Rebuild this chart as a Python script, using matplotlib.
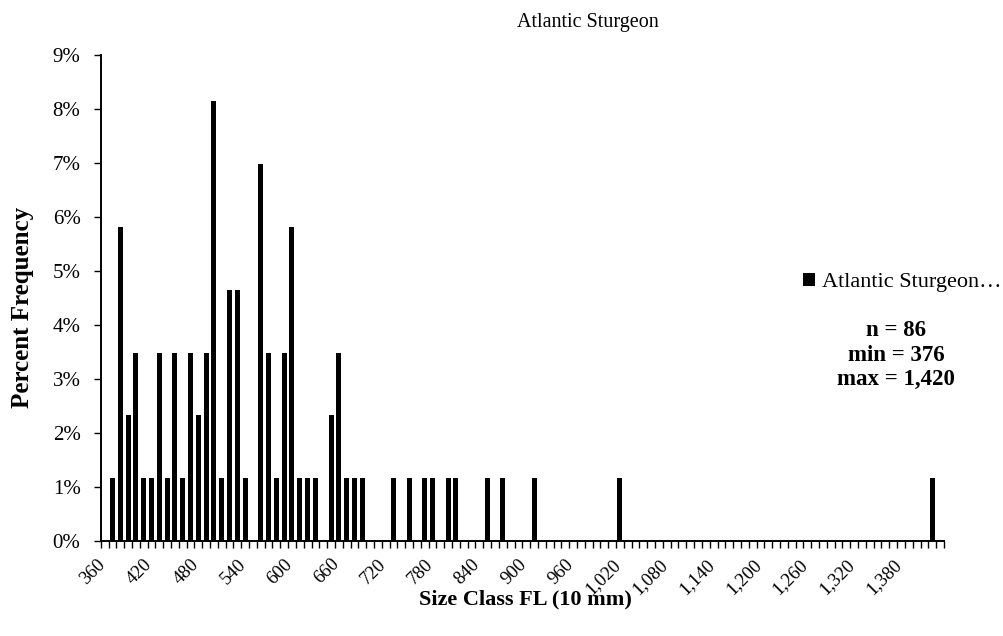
import matplotlib
matplotlib.use("Agg")
import matplotlib.pyplot as plt
import matplotlib.transforms as mtransforms
import numpy as np

# ---- data ----
size_classes = [370, 380, 390, 400, 410, 420, 430, 440, 450, 460, 470, 480, 490, 500,
                510, 520, 530, 540, 560, 570, 580, 590, 600, 610, 620, 630, 650, 660,
                670, 680, 690, 730, 750, 770, 780, 800, 810, 850, 870, 910, 1020, 1420]
counts = [1, 5, 2, 3, 1, 1, 3, 1, 3, 1, 3, 2, 3, 7,
          1, 4, 4, 1, 6, 3, 1, 3, 5, 1, 1, 1, 2, 3,
          1, 1, 1, 1, 1, 1, 1, 1, 1, 1, 1, 1, 1, 1]
n_total = 86
category_start = 360
category_end = 1430
category_step = 10
tick_labels = ["360", "420", "480", "540", "600", "660", "720", "780", "840", "900",
               "960", "1,020", "1,080", "1,140", "1,200", "1,260", "1,320", "1,380"]
y_ticks = [0, 1, 2, 3, 4, 5, 6, 7, 8, 9]
stats_text = "n = 86\nmin = 376\nmax = 1,420"

plt.rcParams['font.family'] = ['Liberation Serif', 'DejaVu Serif']

categories = list(range(category_start, category_end + 1, category_step))
cat_index = {c: i for i, c in enumerate(categories)}
xpos = [cat_index[s] for s in size_classes]
percent = [c / n_total * 100 for c in counts]

fig = plt.figure(figsize=(10.04, 6.36), dpi=100)
ax = fig.add_axes([0.1003, 0.1494, 0.8399, 0.7641])

ax.bar(xpos, percent, width=0.64, color='black', label='Atlantic Sturgeon\u2026')

ax.set_xlim(-0.5, len(categories) - 0.5)
ax.set_ylim(0, 9)

ax.set_yticks(y_ticks)
ax.set_yticklabels([f"{v}%" for v in y_ticks], fontsize=15)

label_pos = [cat_index[int(t.replace(',', ''))] for t in tick_labels]
ax.set_xticks(label_pos)
ax.set_xticklabels(tick_labels, rotation=45, ha='right', va='top',
                   rotation_mode='anchor', fontsize=13.5)
ax.set_xticks(np.arange(-0.5, len(categories), 1.0), minor=True)
ax.tick_params(axis='x', which='major', length=0, pad=10.5)
ax.tick_params(axis='x', which='minor', length=5, width=1, direction='out', color='black')
ax.tick_params(axis='y', which='major', length=5, width=1, direction='out', pad=9.5)

offset = mtransforms.ScaledTranslation(-8 / 100, 0, fig.dpi_scale_trans)
for lbl in ax.get_xticklabels():
    lbl.set_transform(lbl.get_transform() + offset)

for s in ['top', 'right']:
    ax.spines[s].set_visible(False)
for s in ['left', 'bottom']:
    ax.spines[s].set_linewidth(1.4)
    ax.spines[s].set_color('black')

fig.text(0.586, 0.965, "Atlantic Sturgeon", ha='center', va='center', fontsize=14.5)
fig.text(0.022, 0.517, "Percent Frequency", rotation=90, ha='center', va='center',
         fontsize=18, fontweight='bold')
fig.text(0.523, 0.058, "Size Class FL (10 mm)", ha='center', va='center',
         fontsize=16, fontweight='bold')

leg = ax.legend(loc='center left', bbox_to_anchor=(0.7998, 0.5558),
                bbox_transform=fig.transFigure, frameon=False, fontsize=16,
                handlelength=0.54, handleheight=0.54, handletextpad=0.3,
                borderpad=0, borderaxespad=0)

fig.text(0.8924, 0.4418, stats_text, ha='center', va='center', fontsize=16.5,
         fontweight='bold', linespacing=1.22)

fig.savefig("out.png", dpi=100)
